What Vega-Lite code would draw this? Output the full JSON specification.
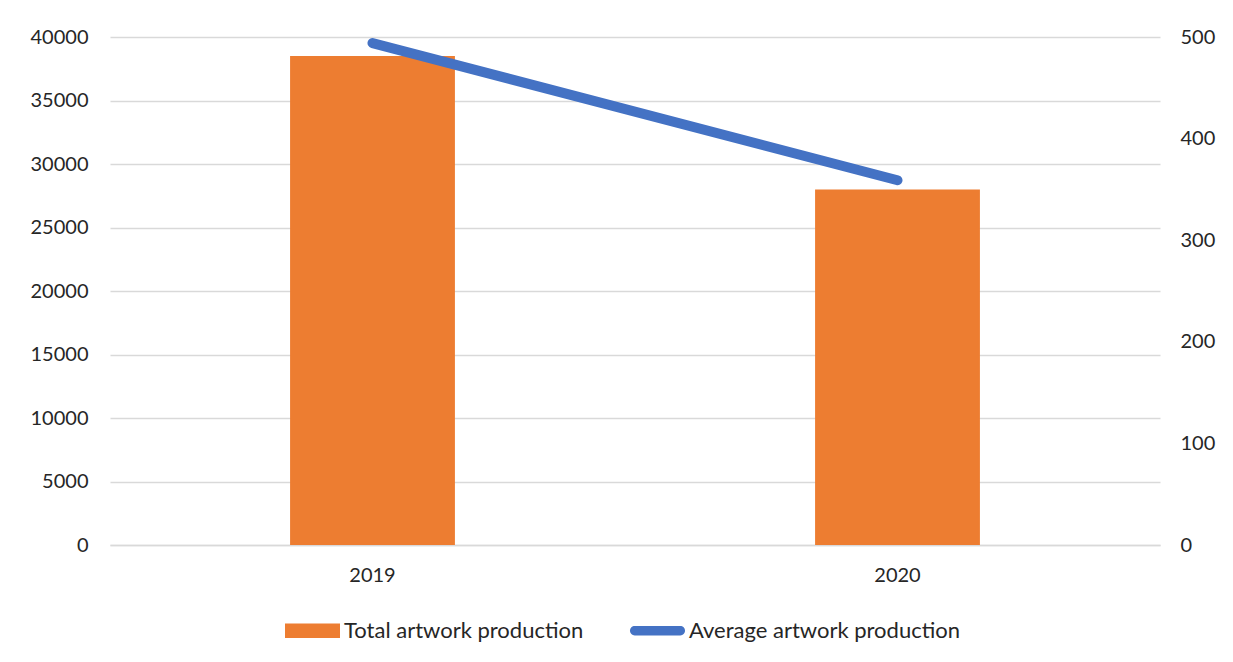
{
  "$schema": "https://vega.github.io/schema/vega-lite/v6.json",
  "autosize": {"type": "none"},
  "width": 1050,
  "height": 508,
  "padding": {"left": 110, "top": 37, "right": 73, "bottom": 117},
  "background": "white",
  "config": {
    "font": "Lato",
    "view": {"stroke": null},
    "axis": {"labelFont": "Lato", "labelFontSize": 20, "labelColor": "#262626", "ticks": false, "domain": false, "title": null}
  },
  "data": {"values": [
    {"year": "2019", "total": 38500, "average": 494},
    {"year": "2020", "total": 28000, "average": 359}
  ]},
  "encoding": {
    "x": {"field": "year", "type": "nominal", "scale": {"paddingInner": 0.686, "paddingOuter": 0.343},
      "axis": {"labelAngle": 0, "labelPadding": 20, "domain": true, "domainColor": "#D9D9D9", "domainWidth": 1.5, "grid": false}}
  },
  "layer": [
    {
      "mark": {"type": "bar", "color": "#ED7D31"},
      "encoding": {
        "y": {"field": "total", "type": "quantitative", "scale": {"domain": [0, 40000]},
          "axis": {"values": [0, 5000, 10000, 15000, 20000, 25000, 30000, 35000, 40000], "format": "d", "grid": true, "gridColor": "#D9D9D9", "gridWidth": 1.5, "labelPadding": 22}}
      }
    },
    {
      "mark": {"type": "line", "color": "#4472C4", "strokeWidth": 10, "strokeCap": "round"},
      "encoding": {
        "y": {"field": "average", "type": "quantitative", "scale": {"domain": [0, 500]},
          "axis": {"orient": "right", "values": [0, 100, 200, 300, 400, 500], "grid": false, "labelPadding": 20}}
      }
    },
    {
      "transform": [{"fold": ["total", "average"], "as": ["key", "val"]},
        {"calculate": "datum.key === 'total' ? 'Total artwork production' : 'Average artwork production'", "as": "series"}],
      "mark": {"type": "point", "filled": true, "opacity": 0},
      "encoding": {
        "color": {"field": "series", "type": "nominal",
          "scale": {"domain": ["Total artwork production", "Average artwork production"], "range": ["#ED7D31", "#4472C4"]},
          "legend": {"title": null, "orient": "none", "legendX": 175, "legendY": 566, "direction": "horizontal", "labelFontSize": 22, "labelFont": "Lato", "labelColor": "#262626", "symbolSize": 3025, "symbolOpacity": 1, "symbolStrokeWidth": 0, "labelOffset": 4, "columnPadding": 45, "labelLimit": 400}},
        "shape": {"field": "series", "type": "nominal",
          "scale": {"domain": ["Total artwork production", "Average artwork production"], "range": ["M-1,-0.26H1V0.26H-1Z", "M-0.83,-0.17H0.83A0.17,0.17 0 0 1 0.83,0.17H-0.83A0.17,0.17 0 0 1 -0.83,-0.17Z"]},
          "legend": {"title": null, "orient": "none", "legendX": 175, "legendY": 566, "direction": "horizontal", "labelFontSize": 22, "labelFont": "Lato", "labelColor": "#262626", "symbolSize": 3025, "symbolOpacity": 1, "symbolStrokeWidth": 0, "labelOffset": 4, "columnPadding": 45, "labelLimit": 400}}
      }
    }
  ],
  "resolve": {"scale": {"y": "independent"}}
}
